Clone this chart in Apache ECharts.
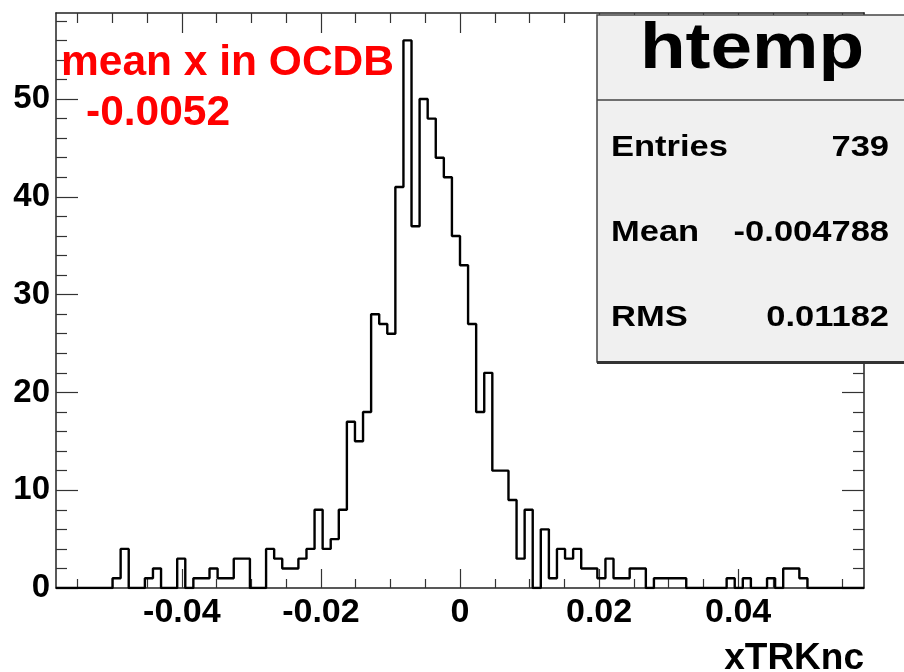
<!DOCTYPE html>
<html>
<head>
<meta charset="utf-8">
<script src="https://cdn.jsdelivr.net/npm/echarts@6/dist/echarts.min.js"></script>
<style>
html,body{margin:0;padding:0;background:#fff;}
#main{width:904px;height:672px;}
</style>
</head>
<body>
<div id="main"></div>
<script>
// Histogram binning (htemp, 100 bins)
var xMin = -0.0581;
var xMax = 0.0581;
var nBins = 100;
var counts = [
  0,0,0,0,0,0,0,1,4,0,
  0,1,2,0,0,3,0,1,1,2,
  1,1,3,3,0,0,4,3,2,2,
  3,4,8,4,5,8,17,15,18,28,
  27,26,41,56,37,50,48,44,42,36,
  33,27,18,22,12,12,9,3,8,0,
  6,1,4,3,4,2,2,1,3,1,
  1,2,2,0,1,1,1,1,0,0,
  0,0,0,1,0,1,0,0,1,0,
  2,2,1,0,0,0,0,0,0,0
];
var yMax = 58.8;
var xMajorTicks = [-0.04, -0.02, 0, 0.02, 0.04];
var xMinorTicks = [-0.055,-0.05,-0.045,-0.035,-0.03,-0.025,-0.015,-0.01,-0.005,0.005,0.01,0.015,0.025,0.03,0.035,0.045,0.05,0.055];
var yMajorTicks = [0, 10, 20, 30, 40, 50];
var yMinorTicks = [2,4,6,8,12,14,16,18,22,24,26,28,32,34,36,38,42,44,46,48,52,54,56,58];
var xTitle = 'xTRKnc';
var statsTitle = 'htemp';
var statsNames = ['Entries', 'Mean', 'RMS'];
var statsValues = ['739', '-0.004788', '0.01182'];
var noteLines = ['mean x in OCDB', '-0.0052'];

var binWidth = (xMax - xMin) / nBins;
var stepData = [];
for (var i = 0; i < nBins; i++) {
  stepData.push([xMin + i * binWidth, counts[i]]);
}
stepData.push([xMax, counts[nBins - 1]]);

var FONT = "'Liberation Sans', Arial, Helvetica, sans-serif";
var frameColor = '#222';

function xAx(pos, ticks, len, showLine, showLabel) {
  return {
    type: 'value', position: pos, min: xMin, max: xMax,
    gridIndex: 0,
    axisLine: {show: showLine, onZero: false, lineStyle: {color: frameColor, width: 1.5}},
    axisTick: {show: true, inside: true, length: len, customValues: ticks, lineStyle: {color: '#333', width: 1.2}},
    axisLabel: showLabel ? {
      show: true, customValues: ticks, margin: 8,
      fontFamily: FONT, fontWeight: 'bold', fontSize: 34, color: '#000'
    } : {show: false},
    splitLine: {show: false},
    minorTick: {show: false}
  };
}
function yAx(pos, ticks, len, showLine, showLabel) {
  return {
    type: 'value', position: pos, min: 0, max: yMax,
    gridIndex: 0,
    axisLine: {show: showLine, onZero: false, lineStyle: {color: frameColor, width: 1.5}},
    axisTick: {show: true, inside: true, length: len, customValues: ticks, lineStyle: {color: '#333', width: 1.2}},
    axisLabel: showLabel ? {
      show: true, customValues: ticks, margin: 6,
      fontFamily: FONT, fontWeight: 'bold', fontSize: 33, color: '#000'
    } : {show: false},
    splitLine: {show: false},
    minorTick: {show: false}
  };
}

var xAxes = [
  xAx('bottom', xMajorTicks, 19, true, true),
  xAx('top', xMajorTicks, 20, true, false),
  xAx('bottom', xMinorTicks, 9, false, false),
  xAx('top', xMinorTicks, 10, false, false)
];
xAxes[0].name = xTitle;
xAxes[0].nameLocation = 'end';
xAxes[0].nameGap = 0;
xAxes[0].nameTextStyle = {
  fontFamily: FONT, fontWeight: 'bold', fontSize: 37, color: '#000',
  align: 'right', verticalAlign: 'top', padding: [52, 0, 0, 0]
};

var yAxes = [
  yAx('left', yMajorTicks, 22, true, true),
  yAx('right', yMajorTicks, 22, true, false),
  yAx('left', yMinorTicks, 11, false, false),
  yAx('right', yMinorTicks, 11, false, false)
];

var boxLeft = 597, boxTop = 15, boxBottom = 362, sepY = 100;
var rowY = [148, 233, 318];
var graphics = [
  {type: 'rect', z: 100, shape: {x: boxLeft, y: boxTop, width: 330, height: boxBottom - boxTop},
   style: {fill: '#f0f0f0', stroke: '#444', lineWidth: 1.5}},
  {type: 'line', z: 101, shape: {x1: boxLeft, y1: boxBottom + 0.5, x2: 904, y2: boxBottom + 0.5},
   style: {stroke: '#333', lineWidth: 3}},
  {type: 'line', z: 101, shape: {x1: boxLeft, y1: sepY, x2: 904, y2: sepY},
   style: {stroke: '#444', lineWidth: 1.5}},
  {type: 'text', z: 102, x: 752, y: 50, scaleX: 1.15,
   style: {text: statsTitle, x: 0, y: 0, align: 'center', verticalAlign: 'middle',
           font: 'bold 65px ' + FONT, fill: '#000'}}
];
for (var r = 0; r < statsNames.length; r++) {
  graphics.push({type: 'text', z: 102, x: 611, y: rowY[r], scaleX: 1.15,
    style: {text: statsNames[r], x: 0, y: 0, align: 'left', verticalAlign: 'middle',
            font: 'bold 30px ' + FONT, fill: '#000'}});
  graphics.push({type: 'text', z: 102, x: 889, y: rowY[r], scaleX: 1.15,
    style: {text: statsValues[r], x: 0, y: 0, align: 'right', verticalAlign: 'middle',
            font: 'bold 30px ' + FONT, fill: '#000'}});
}
graphics.push({type: 'text', z: 102, x: 61, y: 63,
  style: {text: noteLines[0], x: 0, y: 0, align: 'left', verticalAlign: 'middle',
          font: 'bold 42.5px ' + FONT, fill: '#ff0000'}});
graphics.push({type: 'text', z: 102, x: 86, y: 113,
  style: {text: noteLines[1], x: 0, y: 0, align: 'left', verticalAlign: 'middle',
          font: 'bold 42.5px ' + FONT, fill: '#ff0000'}});

var chart = echarts.init(document.getElementById('main'), null, {renderer: 'canvas'});
chart.setOption({
  backgroundColor: '#ffffff',
  animation: false,
  grid: {left: 56, right: 40, top: 13, bottom: 84, containLabel: false, outerBoundsMode: 'none'},
  xAxis: xAxes,
  yAxis: yAxes,
  series: [{
    type: 'line', xAxisIndex: 0, yAxisIndex: 0,
    step: 'end', data: stepData, showSymbol: false, symbol: 'none',
    lineStyle: {color: '#000', width: 2.4}, z: 5
  }],
  graphic: graphics
});
</script>
</body>
</html>
